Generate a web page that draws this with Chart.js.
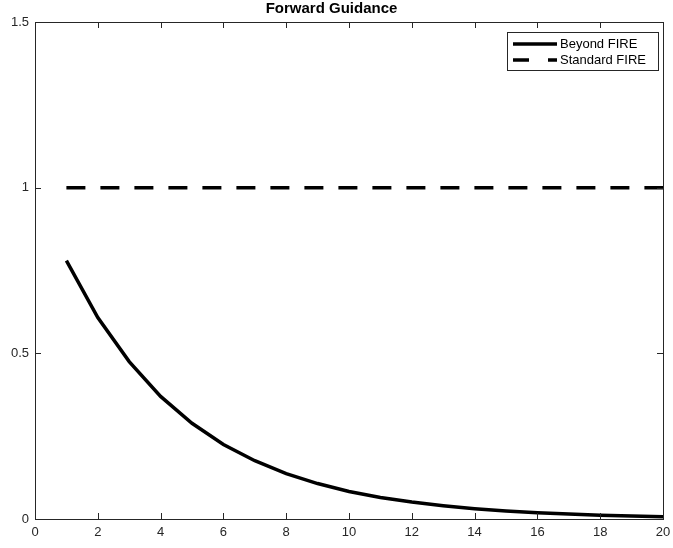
<!DOCTYPE html>
<html>
<head>
<meta charset="utf-8">
<script src="https://cdn.jsdelivr.net/npm/chart.js@4"></script>
<style>
  html, body { margin: 0; padding: 0; background: #fff; }
  #wrap { width: 673px; height: 548px; position: relative; }
</style>
</head>
<body>
<div id="wrap"><canvas id="c"></canvas></div>
<script>
// ---- data ----
const periods = [1,2,3,4,5,6,7,8,9,10,11,12,13,14,15,16,17,18,19,20];
const beyondFire = [0.78,0.608,0.475,0.370,0.289,0.225,0.176,0.137,0.107,0.083,0.065,0.051,0.040,0.031,0.024,0.019,0.015,0.011,0.009,0.007];
const standardFire = [1,1,1,1,1,1,1,1,1,1,1,1,1,1,1,1,1,1,1,1];
const seriesNames = ["Beyond FIRE", "Standard FIRE"];
const chartTitle = "Forward Guidance";
const xTicks = [0,2,4,6,8,10,12,14,16,18,20];
const yTicks = [0,0.5,1,1.5];
const yTickLabels = ["0","0.5","1","1.5"];

const FONT = "'Liberation Sans', Arial, Helvetica, sans-serif";
const AXIS = '#262626';

const toXY = (xs, ys) => xs.map((x, i) => ({x: x, y: ys[i]}));

const boxPlugin = {
  id: 'matlabBox',
  afterDraw(chart) {
    const ctx = chart.ctx;
    const a = chart.chartArea;
    const xs = chart.scales.x, ys = chart.scales.y;
    ctx.save();
    ctx.strokeStyle = AXIS;
    ctx.lineWidth = 1;
    ctx.strokeRect(Math.round(a.left) + 0.5, Math.round(a.top) + 0.5,
                   Math.round(a.right - a.left), Math.round(a.bottom - a.top));
    const tl = 6;
    ctx.beginPath();
    xTicks.forEach(v => {
      const px = Math.round(xs.getPixelForValue(v)) + 0.5;
      ctx.moveTo(px, a.bottom); ctx.lineTo(px, a.bottom - tl);
      ctx.moveTo(px, a.top); ctx.lineTo(px, a.top + tl);
    });
    yTicks.forEach(v => {
      const py = Math.round(ys.getPixelForValue(v)) + 0.5;
      ctx.moveTo(a.left, py); ctx.lineTo(a.left + tl, py);
      ctx.moveTo(a.right, py); ctx.lineTo(a.right - tl, py);
    });
    ctx.stroke();

    // legend
    const bx = a.right - 156, by = a.top + 10, bw = 151, bh = 38;
    ctx.fillStyle = '#fff';
    ctx.fillRect(bx, by, bw, bh);
    ctx.strokeStyle = AXIS;
    ctx.lineWidth = 1;
    ctx.strokeRect(Math.round(bx) + 0.5, Math.round(by) + 0.5, bw, bh);
    const rows = [by + 12, by + 28];
    const dashes = [[], [16, 19]];
    ctx.strokeStyle = '#000';
    ctx.lineWidth = 3.5;
    ctx.lineCap = 'butt';
    rows.forEach((ry, i) => {
      ctx.setLineDash(dashes[i]);
      ctx.beginPath();
      ctx.moveTo(bx + 6, ry); ctx.lineTo(bx + 50, ry);
      ctx.stroke();
    });
    ctx.setLineDash([]);
    ctx.fillStyle = '#000';
    ctx.font = '13px ' + FONT;
    ctx.textBaseline = 'middle';
    ctx.textAlign = 'left';
    rows.forEach((ry, i) => ctx.fillText(seriesNames[i], bx + 53, ry + 0.5));
    ctx.restore();
  }
};

new Chart(document.getElementById('c'), {
  type: 'line',
  data: {
    datasets: [
      {
        label: seriesNames[0],
        data: toXY(periods, beyondFire),
        borderColor: '#000',
        borderWidth: 3.5,
        pointRadius: 0,
        tension: 0,
        fill: false
      },
      {
        label: seriesNames[1],
        data: toXY(periods, standardFire),
        borderColor: '#000',
        borderWidth: 3.5,
        borderDash: [19, 15],
        borderCapStyle: 'butt',
        pointRadius: 0,
        tension: 0,
        fill: false
      }
    ]
  },
  options: {
    responsive: true,
    maintainAspectRatio: false,
    animation: false,
    layout: { padding: { top: 0, right: 10, bottom: 0, left: 0 } },
    plugins: {
      legend: { display: false },
      tooltip: { enabled: false },
      title: {
        display: true,
        text: chartTitle,
        color: '#000',
        font: { family: FONT, size: 15, weight: 'bold' },
        padding: { top: 0, bottom: 4 }
      }
    },
    scales: {
      x: {
        type: 'linear',
        min: 0, max: 20,
        afterBuildTicks: s => { s.ticks = xTicks.map(v => ({value: v})); },
        grid: { display: false, drawTicks: false },
        border: { display: false },
        ticks: { color: AXIS, font: { family: FONT, size: 13 }, padding: 6, maxRotation: 0 },
        afterFit: s => { s.height = 29; s.paddingRight = 0; s.paddingLeft = 0; }
      },
      y: {
        type: 'linear',
        min: 0, max: 1.5,
        afterBuildTicks: s => { s.ticks = yTicks.map(v => ({value: v})); },
        grid: { display: false, drawTicks: false },
        border: { display: false },
        ticks: {
          color: AXIS, font: { family: FONT, size: 13 }, padding: 6,
          callback: (v, i) => yTickLabels[i]
        },
        afterFit: s => { s.width = 35; }
      }
    }
  },
  plugins: [boxPlugin]
});
</script>
</body>
</html>
